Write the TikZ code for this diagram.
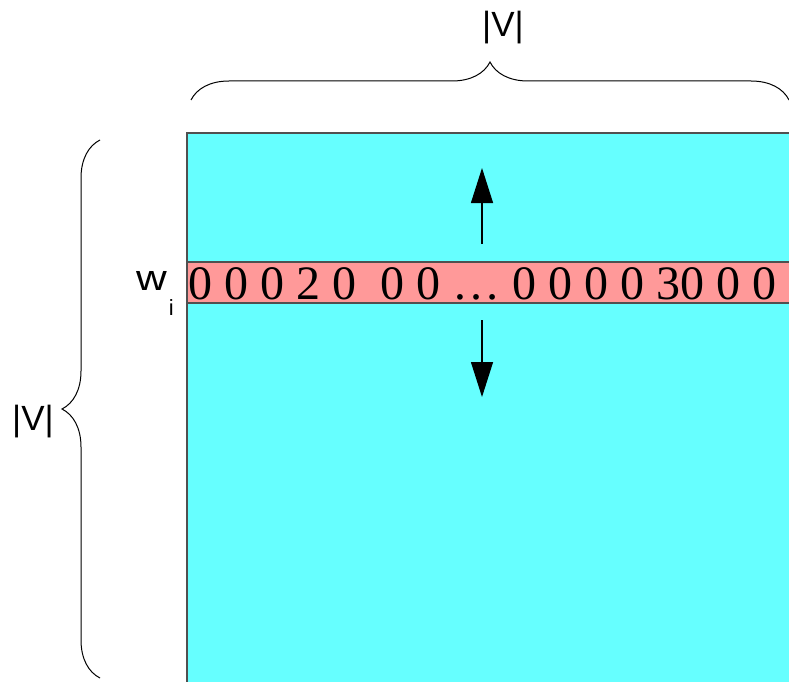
\documentclass[tikz,border=0pt]{standalone}
\usepackage{fontspec}
\setmainfont{Liberation Serif}
\setsansfont{Liberation Sans}
\usetikzlibrary{arrows.meta,decorations.pathreplacing,positioning}
\definecolor{matcyan}{RGB}{102,255,255}
\definecolor{rowpink}{RGB}{255,153,153}
\definecolor{edgegray}{RGB}{80,80,80}

\begin{document}
\begin{tikzpicture}[
    x=1pt, y=-1pt,
    >={Triangle[length=35pt, width=22pt]},
    cellblock/.style={draw=edgegray, line width=1.5pt},
    bracket/.style={decorate, decoration={brace, amplitude=38pt}, line width=1pt},
    dimlabel/.style={font=\fontsize{35}{40}\selectfont\sffamily},
    moverarr/.style={->, line width=1.2pt},
]
\useasboundingbox (0,0) rectangle (789,682);

% === matrix and the highlighted row ===
\fill[matcyan] (187,133) rectangle (800,700);
\draw[cellblock] (187,700) -- (187,133) -- (800,133);
\filldraw[fill=rowpink, cellblock] (187,262) rectangle (800,303);
\coordinate (rowtop) at (482,262);
\coordinate (rowbot) at (482,303);

\node[anchor=west, inner sep=0pt, font=\fontsize{48}{50}\selectfont] (vals) at (188,284)
    {0 0 0 2 0~ 0 0 \dots\ 0 0 0 0 30 0 0};
\node[anchor=base east, inner sep=0pt, font=\fontsize{36}{40}\selectfont\sffamily] (wi) at (174,290)
    {\scalebox{1.18}[1]{w}\kern2pt\raisebox{-25pt}{\fontsize{22}{22}\selectfont i}};

% shifting arrows
\coordinate (upend) at (482,168);
\coordinate (downend) at (482,397);
\draw[moverarr] ([yshift=18pt]rowtop) -- (upend);
\draw[moverarr] ([yshift=-17pt]rowbot) -- (downend);

% === braces ===
\coordinate (tl) at (191,100);
\coordinate (tr) at (789,100);
\draw[bracket] (tl) -- (tr);
\node[dimlabel] (vtop) at (503,28) {|V|};

\coordinate (lt) at (100,140);
\coordinate (lb) at (100,678);
\draw[bracket] (lb) -- (lt);
\node[dimlabel] (vleft) at (33,422) {|V|};

\end{tikzpicture}
\end{document}
